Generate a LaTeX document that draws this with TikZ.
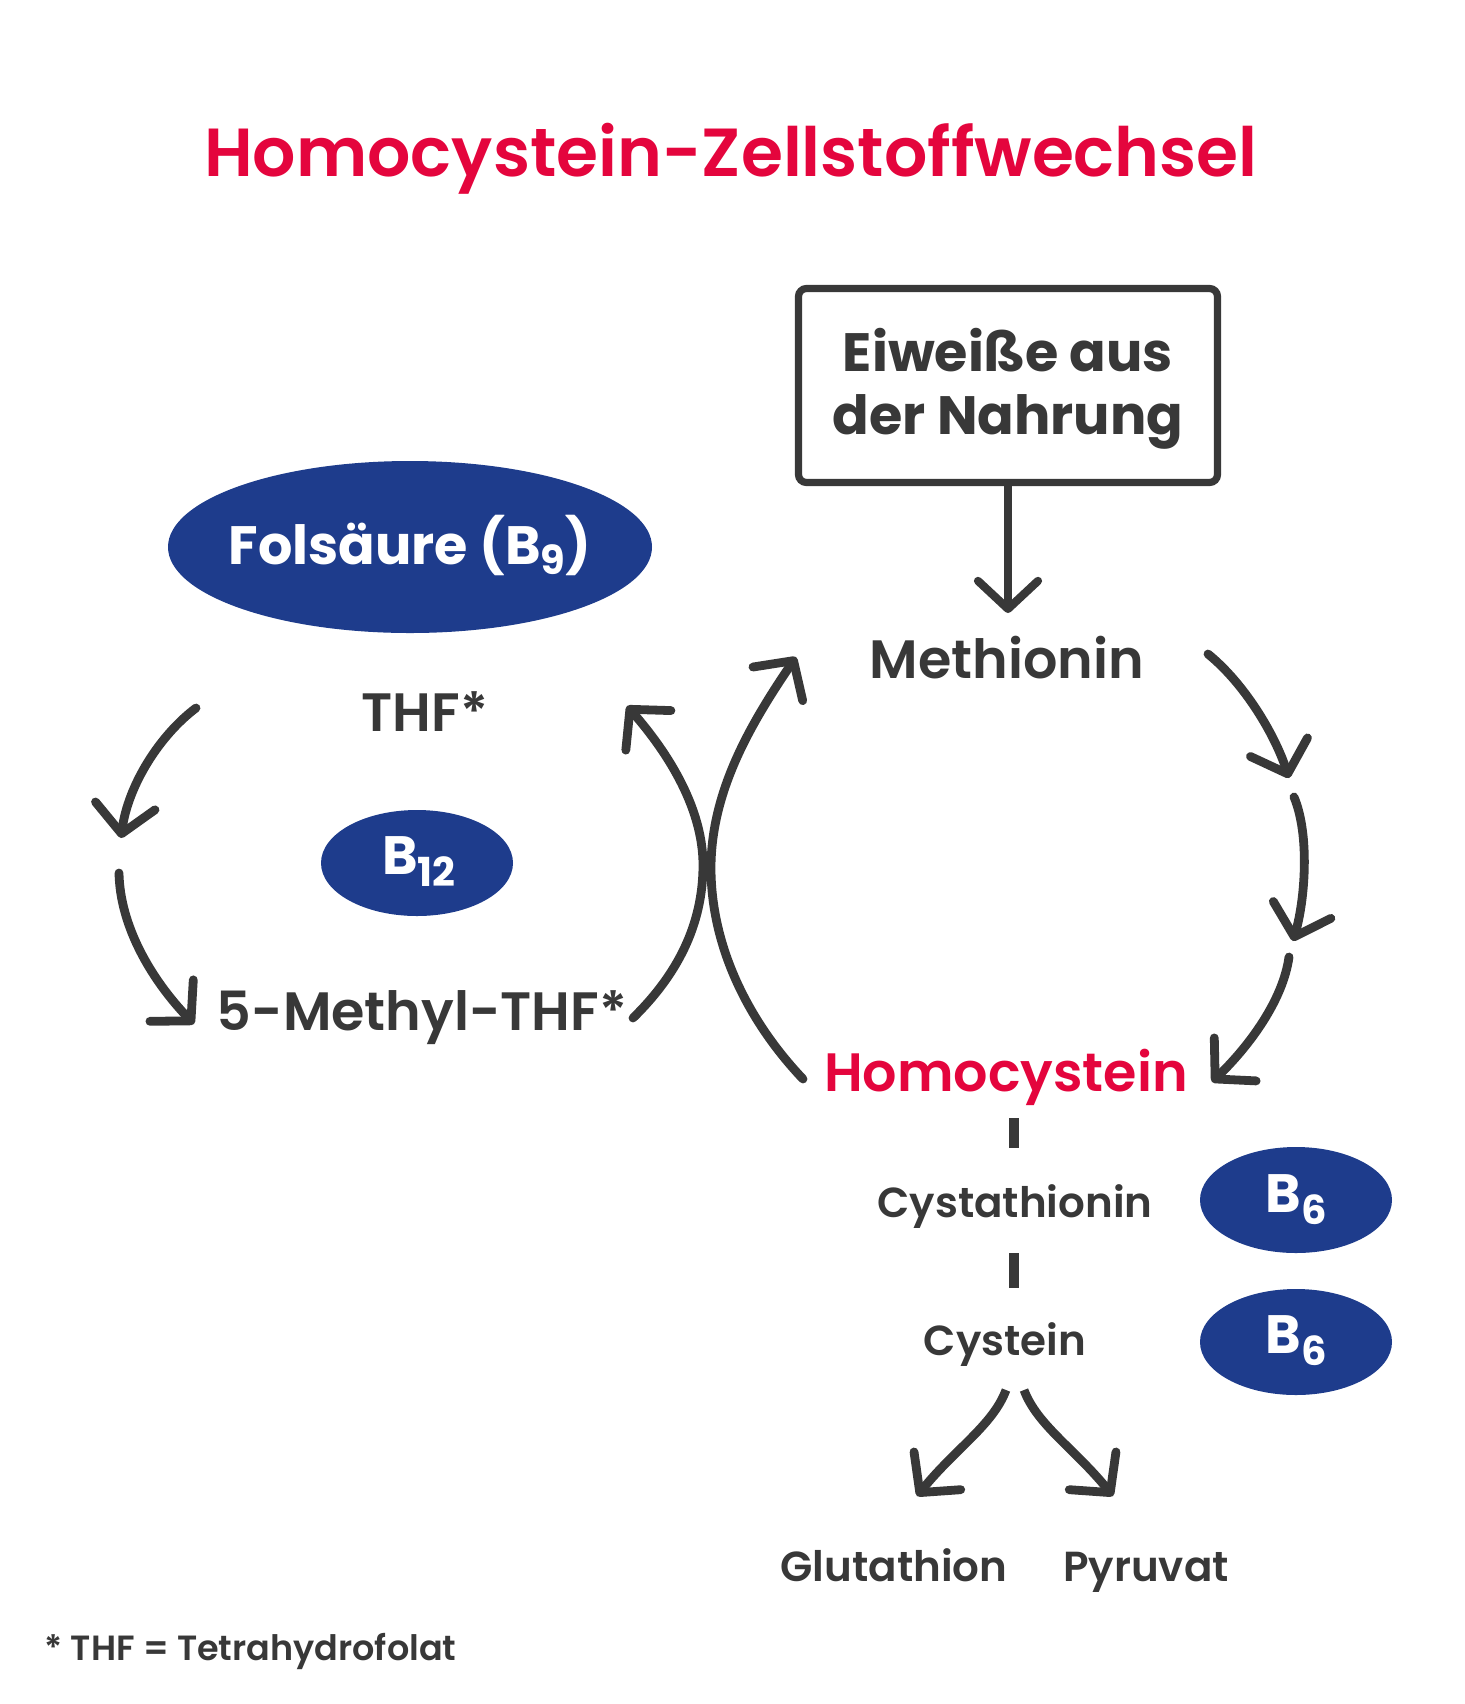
\documentclass[tikz,border=0pt]{standalone}
\usepackage{fontspec}
\setmainfont{Poppins}[UprightFont=* SemiBold, BoldFont=* Bold]
\usetikzlibrary{arrows.meta,shapes.geometric}
\definecolor{ink}{HTML}{383838}
\definecolor{hred}{HTML}{E4053D}
\definecolor{hblue}{HTML}{1E3C8C}
\newcommand{\subsc}[2][6pt]{\raisebox{-#1}{\fontsize{20}{20}\selectfont #2}}
\tikzset{
  flow/.style={draw=ink, line width=4.4pt, line cap=round,
    -{Straight Barb[length=14pt,width=30pt,round]}},
  bar/.style={draw=ink, line width=5pt},
  lbl/.style={anchor=base, inner sep=0pt, text=ink, font=\fontsize{27}{32}\selectfont},
  smalllbl/.style={lbl, font=\fontsize{21}{25}\selectfont},
  vit/.style={ellipse, fill=hblue, inner sep=0pt},
  vittext/.style={anchor=base, inner sep=0pt, text=white, font=\fontsize{27}{32}\selectfont\bfseries},
}
\begin{document}
\begin{tikzpicture}[x=0.5pt,y=-0.5pt]
\path[use as bounding box, fill=white] (0,0) rectangle (1464,1704);

% title
\node[lbl, text=hred, font=\fontsize{34}{40}\selectfont] (title) at (731,176) {Homocystein-Zellstoffwechsel};

% box
\node[draw=ink, line width=3.6pt, rounded corners=4pt, minimum width=209.5pt,
      minimum height=97pt, inner sep=0pt] (box) at (1008,385.5) {};
\node[lbl, font=\fontsize{27}{32}\selectfont\bfseries] (box1) at (1008,371) {Eiweiße aus};
\node[lbl, font=\fontsize{27}{32}\selectfont\bfseries] (box2) at (1008,434) {der Nahrung};

% main labels
\node[lbl] (meth) at (1007,678) {Methionin};
\node[lbl, text=hred] (homo) at (1006,1091) {Homocystein};
\node[lbl] (thf) at (425,731) {THF*};
\node[lbl] (mthf) at (422,1030) {5-Methyl-THF*};
\node[smalllbl] (cysta) at (1015,1217) {Cystathionin};
\node[smalllbl] (cys) at (1005,1355) {Cystein};
\node[smalllbl] (glu) at (894,1581) {Glutathion};
\node[smalllbl] (pyr) at (1146,1581) {Pyruvat};
\node[anchor=base west, inner sep=0pt, text=ink, font=\fontsize{17.5}{21}\selectfont] (foot) at (44,1660) {* THF = Tetrahydrofolat};

% vitamins
\node[vit, minimum width=242pt, minimum height=86pt] (fol) at (410,547) {};
\node[vittext] (foltext) at (410,564) {Folsäure (B\subsc[5pt]{9})};
\node[vit, minimum width=96pt, minimum height=53pt] (b12) at (417,863) {};
\node[vittext] (b12text) at (419,874) {B\subsc{12}};
\node[vit, minimum width=96pt, minimum height=53pt] (b6a) at (1296,1200) {};
\node[vittext] (b6atext) at (1296,1212) {B\subsc{6}};
\node[vit, minimum width=96pt, minimum height=53pt] (b6b) at (1296,1342) {};
\node[vittext] (b6btext) at (1296,1353) {B\subsc{6}};

% box -> Methionin
\coordinate (mtop) at (1008,613);
\draw[flow, line width=4.1pt] (box.south) -- (mtop);

% right cycle
\coordinate (r1s) at (1208,654); \coordinate (r1e) at (1289,778);
\draw[flow] (r1s) .. controls (1245,684) and (1275,735) .. (r1e);
\coordinate (r2s) at (1294,797); \coordinate (r2e) at (1293,941);
\draw[flow] (r2s) .. controls (1310,835) and (1305,900) .. (r2e);
\coordinate (r3s) at (1289,957); \coordinate (r3e) at (1212,1082);
\draw[flow] (r3s) .. controls (1283,1000) and (1250,1045) .. (r3e);

% crossing arcs
\coordinate (xa1) at (803,1079); \coordinate (xa2) at (711,868); \coordinate (xa3) at (796,657);
\draw[flow] (xa1) .. controls (747,1020) and (711,945) .. (xa2) .. controls (711,790) and (752,722) .. (xa3);
\coordinate (xb1) at (633,1018); \coordinate (xb2) at (703,865); \coordinate (xb3) at (627,706);
\draw[flow] (xb1) .. controls (677,975) and (703,925) .. (xb2) .. controls (703,810) and (670,755) .. (xb3);

% left cycle
\coordinate (l1s) at (196,708); \coordinate (l1e) at (121,838);
\draw[flow] (l1s) .. controls (160,735) and (128,785) .. (l1e);
\coordinate (l2s) at (119,873); \coordinate (l2e) at (194,1024);
\draw[flow] (l2s) .. controls (120,925) and (150,978) .. (l2e);

% Homocystein -> Cystathionin -> Cystein
\coordinate (d1a) at (1014,1118); \coordinate (d1b) at (1014,1148);
\draw[bar] (d1a) -- (d1b);
\coordinate (d2a) at (1014,1253); \coordinate (d2b) at (1014,1288);
\draw[bar] (d2a) -- (d2b);

% branches
\coordinate (c1s) at (1006,1390); \coordinate (c1e) at (917,1496);
\draw[flow, line cap=butt] (c1s) .. controls (993,1425) and (955,1449) .. (c1e);
\coordinate (c2s) at (1024,1390); \coordinate (c2e) at (1113,1496);
\draw[flow, line cap=butt] (c2s) .. controls (1037,1425) and (1075,1449) .. (c2e);
\end{tikzpicture}
\end{document}
